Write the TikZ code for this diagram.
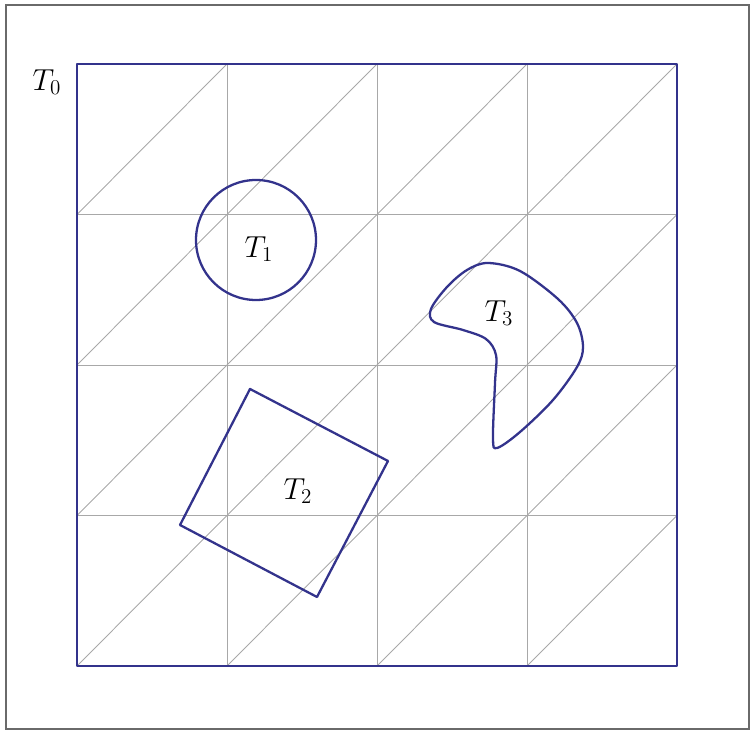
\documentclass[tikz,border=0pt]{standalone}
\usepackage{xcolor}
\usepackage{tikz}
\usetikzlibrary{calc}
\definecolor{meshblue}{HTML}{33338C}
\definecolor{meshgray}{HTML}{A8A8A8}
\definecolor{framegray}{HTML}{6A6A6A}

\begin{document}
\begin{tikzpicture}[
    x=0.02cm, y=-0.02cm,
    gridline/.style={meshgray, line width=0.5pt},
    region/.style={meshblue, line width=1.3pt, line join=round},
    lbl/.style={font=\fontsize{18}{22}\selectfont, inner sep=0pt},
  ]
    \useasboundingbox (0,0) rectangle (751,732);
    \draw[framegray, line width=0.9pt] (6,5) rectangle (749,729);

    % mesh: cells of 150 px, each split by a diagonal
    \foreach \i in {0,...,3}{
      \foreach \j in {0,...,3}{
        \draw[gridline] (77+150*\i,666-150.5*\j) -- (227+150*\i,515.5-150.5*\j);
      }
    }
    \foreach \i in {1,2,3}{
      \draw[gridline] (77+150*\i,64) -- (77+150*\i,666);
      \draw[gridline] (77,64+150.5*\i) -- (677,64+150.5*\i);
    }
    \draw[region] (77,64) rectangle (677,666);
    \node[lbl] (t0) at (47,82) {$T_0$};

    % circle
    \draw[region] (256,240) circle (60);
    \node[lbl] (t1) at (259,249) {$T_1$};

    % tilted square
    \draw[region] (250,389) -- (388,461) -- (317,597) -- (180,525) -- cycle;
    \node[lbl] (t2) at (298,491) {$T_2$};

    % kidney shape
    \draw[region] plot[smooth cycle, tension=0.55] coordinates {
      (488,263) (520,271) (558,299) (577,323) (583,347) (577,367)
      (553,400) (520,432) (497,448) (493,438) (495,383) (496,355)
      (486,339) (463,330) (434,322) (431,309) (447,287) (467,270)};
    \node[lbl] (t3) at (499,313) {$T_3$};
  \end{tikzpicture}
\end{document}
